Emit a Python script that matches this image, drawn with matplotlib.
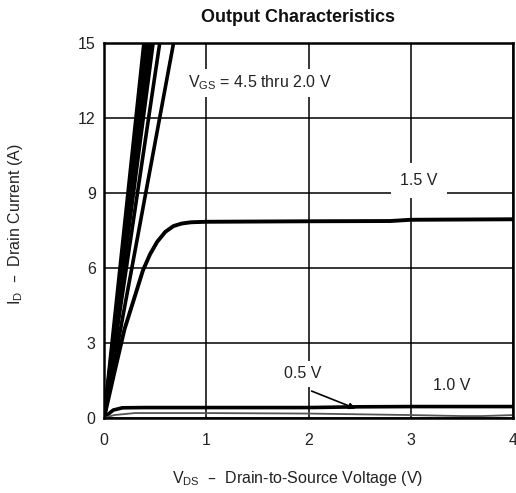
import matplotlib
matplotlib.use("Agg")
import matplotlib.pyplot as plt

plt.rcParams["font.family"] = ["Liberation Sans", "DejaVu Sans"]

# steep curves, VGS = 4.5 thru 2.0 V (nearly linear from origin)
vgs_high = ["4.5", "4.0", "3.5", "3.0", "2.5", "2.0"]
vds_at_15a = [0.39, 0.42, 0.45, 0.48, 0.545, 0.68]

# VGS = 1.5 V
vds_15 = [0.0, 0.1, 0.2, 0.3, 0.38, 0.45, 0.52, 0.6, 0.68, 0.76, 0.85, 1.0,
          1.5, 2.0, 2.8, 3.0, 3.5, 4.0]
id_15 = [0.0, 1.8, 3.55, 4.85, 5.9, 6.55, 7.05, 7.45, 7.68, 7.78, 7.83, 7.85,
         7.86, 7.87, 7.88, 7.93, 7.94, 7.95]

# VGS = 1.0 V
vds_10 = [0.0, 0.04, 0.09, 0.18, 0.4, 1.0, 2.0, 2.5, 3.0, 4.0]
id_10 = [0.0, 0.15, 0.32, 0.41, 0.42, 0.42, 0.42, 0.45, 0.46, 0.46]

# VGS = 0.5 V
vds_05 = [0.0, 0.1, 0.3, 1.0, 2.0, 3.0, 3.5, 3.7, 4.0]
id_05 = [0.0, 0.12, 0.2, 0.2, 0.18, 0.12, 0.08, 0.08, 0.12]

x_ticks = [0, 1, 2, 3, 4]
y_ticks = [0, 3, 6, 9, 12, 15]

fig = plt.figure(figsize=(5.16, 4.93), dpi=100)
ax = fig.add_axes([0.2016, 0.152, 0.7926, 0.7608])

ax.set_xlim(0, 4)
ax.set_ylim(0, 15)
ax.set_xticks(x_ticks)
ax.set_yticks(y_ticks)
ax.grid(True, color="black", linewidth=1.1)
ax.tick_params(length=0, labelsize=11.5, colors="#222222")
ax.tick_params(axis="x", pad=11)
ax.tick_params(axis="y", pad=6)
for s in ax.spines.values():
    s.set_linewidth(1.8)

for v in vds_at_15a:
    ax.plot([0, v], [0, 15], color="black", linewidth=2.6, solid_capstyle="butt")
ax.plot(vds_15, id_15, color="black", linewidth=2.8)
ax.plot(vds_10, id_10, color="black", linewidth=2.6)
ax.plot(vds_05, id_05, color="#555555", linewidth=1.3)

ax.text(0.82, 13.4, r"V$_\mathregular{GS}$ = 4.5 thru 2.0 V", fontsize=11.5,
        va="center", ha="left", color="#222222",
        bbox=dict(facecolor="white", edgecolor="none", pad=3))
ax.text(3.08, 9.5, "1.5 V", fontsize=11.5, ha="center", va="center",
        bbox=dict(facecolor="white", edgecolor="none", pad=7), color="#222222")
ax.text(1.94, 1.77, "0.5 V", fontsize=11.5, ha="center", va="center",
        bbox=dict(facecolor="white", edgecolor="none", pad=4), color="#222222")
ax.text(3.4, 1.32, "1.0 V", fontsize=11.5, ha="center", va="center", color="#222222")
ax.annotate("", xy=(2.46, 0.38), xytext=(2.03, 1.08),
            arrowprops=dict(arrowstyle="-|>", color="black", lw=1.2,
                            mutation_scale=9, shrinkA=0, shrinkB=0))

fig.text(0.578, 0.964, "Output Characteristics", fontsize=13, fontweight="bold",
         ha="center", va="center", color="#111111")
fig.text(0.576, 0.03, r"V$_\mathregular{DS}$  –  Drain-to-Source Voltage (V)",
         fontsize=11.5, ha="center", va="center", color="#222222")
fig.text(0.03, 0.545, r"I$_\mathregular{D}$  –  Drain Current (A)",
         fontsize=11.5, ha="center", va="center", rotation=90, color="#222222")

fig.savefig("out.png", dpi=100)
